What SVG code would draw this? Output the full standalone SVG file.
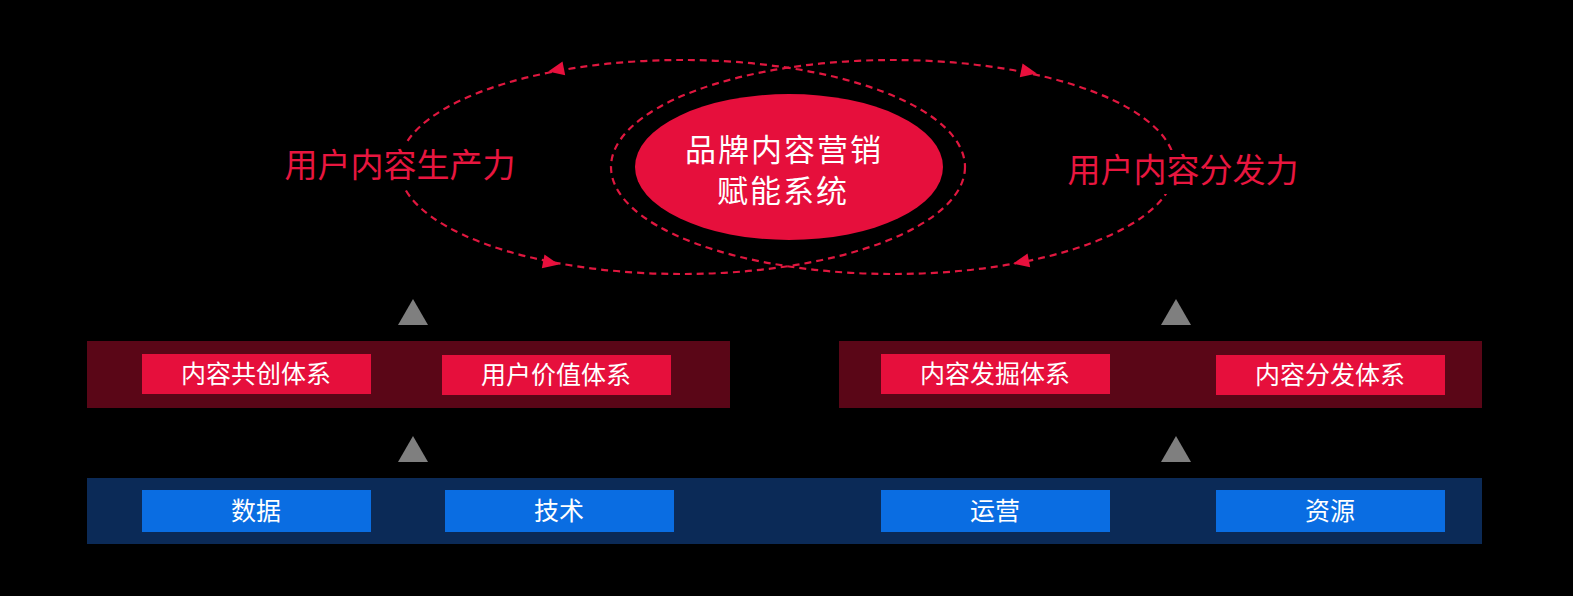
<svg xmlns="http://www.w3.org/2000/svg" width="1573" height="596" viewBox="0 0 1573 596">
<style>
.dash{fill:none;stroke:#e0173f;stroke-width:2.2;stroke-dasharray:7 5}
.ah{fill:#e8103d}
.tri{fill:#7f7f7f}
.lbl{font-family:"Noto Sans CJK SC","Noto Sans",sans-serif;fill:#e8163f;font-size:33px;text-anchor:middle}
.ctr{font-family:"Noto Sans CJK SC","Noto Sans",sans-serif;fill:#ffffff;font-size:31px;letter-spacing:2px;text-anchor:middle}
.box{font-family:"Noto Sans CJK SC","Noto Sans",sans-serif;fill:#ffffff;font-size:25px;text-anchor:middle}
.redband{fill:#5a0617}
.blueband{fill:#0b2a57}
.redbox{fill:#e60f3c}
.bluebox{fill:#0a6de2}
</style>
<rect x="0" y="0" width="1573" height="596" fill="#000"/>
<g id="connectors">
<ellipse class="dash" cx="682" cy="167" rx="283" ry="107"/>
<ellipse class="dash" cx="893" cy="167" rx="282" ry="107"/>
<polygon class="ah" points="8,0 -8,-7 -8,7" transform="translate(556,70) rotate(169)"/>
<polygon class="ah" points="8,0 -8,-7 -8,7" transform="translate(551,263) rotate(11)"/>
<polygon class="ah" points="8,0 -8,-7 -8,7" transform="translate(1029,72) rotate(11.6)"/>
<polygon class="ah" points="8,0 -8,-7 -8,7" transform="translate(1021,262) rotate(169)"/>
<polygon class="tri" points="413,299 398,325 428,325"/>
<polygon class="tri" points="413,436 398,462 428,462"/>
<polygon class="tri" points="1176,299 1161,325 1191,325"/>
<polygon class="tri" points="1176,436 1161,462 1191,462"/>
</g>
<g id="label-left">
<rect x="280" y="143" width="242" height="44" fill="#000"/>
<text class="lbl" x="400" y="177">用户内容生产力</text>
</g>
<g id="label-right">
<rect x="1062" y="150" width="242" height="44" fill="#000"/>
<text class="lbl" x="1183" y="182">用户内容分发力</text>
</g>
<g id="center">
<ellipse cx="789" cy="167" rx="154" ry="73" fill="#e60f3c"/>
<text class="ctr"><tspan x="784" y="161">品牌内容营销</tspan><tspan x="783" y="202">赋能系统</tspan></text>
</g>
<g id="band-red-left">
<rect class="redband" x="87" y="341" width="643" height="67"/>
</g>
<g id="band-red-right">
<rect class="redband" x="839" y="341" width="643" height="67"/>
</g>
<g id="band-blue">
<rect class="blueband" x="87" y="478" width="1395" height="66"/>
</g>
<g id="n-neirong-gongchuang">
<rect class="redbox" x="142" y="354" width="229" height="40"/>
<text class="box" x="256" y="383">内容共创体系</text>
</g>
<g id="n-yonghu-jiazhi">
<rect class="redbox" x="442" y="355" width="229" height="40"/>
<text class="box" x="556" y="384">用户价值体系</text>
</g>
<g id="n-neirong-fajue">
<rect class="redbox" x="881" y="354" width="229" height="40"/>
<text class="box" x="995" y="383">内容发掘体系</text>
</g>
<g id="n-neirong-fenfa">
<rect class="redbox" x="1216" y="355" width="229" height="40"/>
<text class="box" x="1330" y="384">内容分发体系</text>
</g>
<g id="n-shuju">
<rect class="bluebox" x="142" y="490" width="229" height="42"/>
<text class="box" x="256" y="520">数据</text>
</g>
<g id="n-jishu">
<rect class="bluebox" x="445" y="490" width="229" height="42"/>
<text class="box" x="559" y="520">技术</text>
</g>
<g id="n-yunying">
<rect class="bluebox" x="881" y="490" width="229" height="42"/>
<text class="box" x="995" y="520">运营</text>
</g>
<g id="n-ziyuan">
<rect class="bluebox" x="1216" y="490" width="229" height="42"/>
<text class="box" x="1330" y="520">资源</text>
</g>
</svg>
